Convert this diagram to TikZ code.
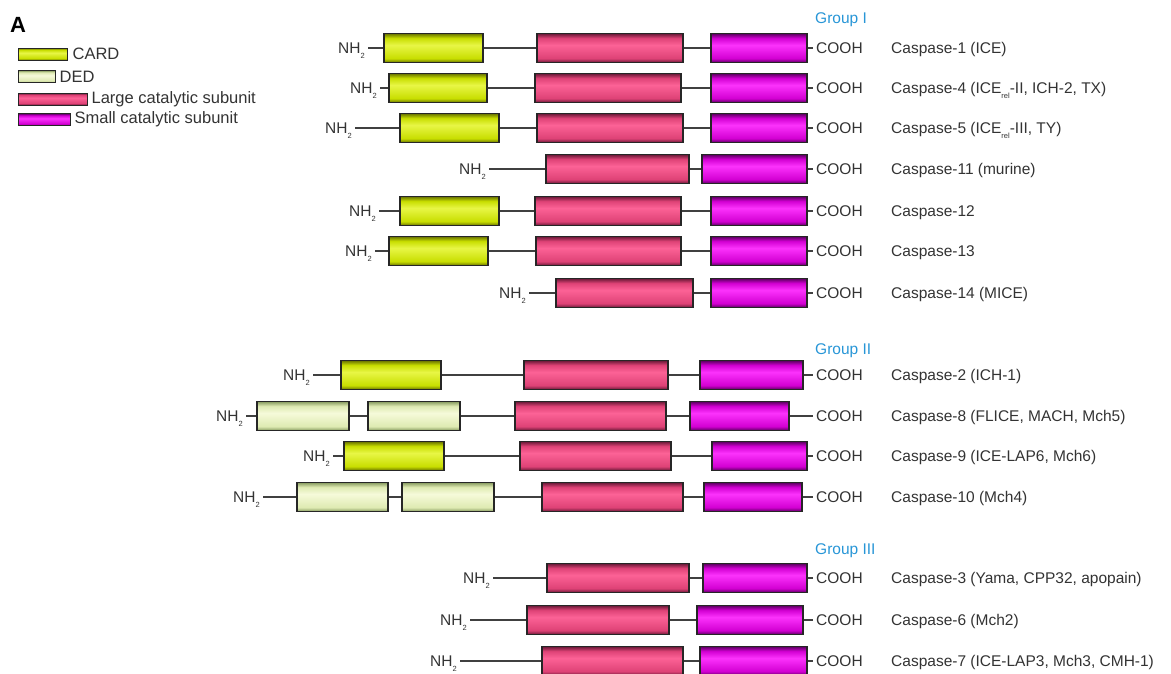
\documentclass[tikz,border=0pt]{standalone}
\usepackage{fontspec}
\setmainfont{Liberation Sans}
\usepackage{tikz}
\usetikzlibrary{positioning}

\definecolor{groupblue}{RGB}{40,150,215}
\definecolor{cardD}{RGB}{105,115,0}
\definecolor{cardM}{RGB}{200,222,0}
\definecolor{cardL}{RGB}{232,246,70}
\definecolor{dedD}{RGB}{135,155,95}
\definecolor{dedM}{RGB}{222,234,178}
\definecolor{dedL}{RGB}{246,250,218}
\definecolor{largeD}{RGB}{105,25,55}
\definecolor{largeM}{RGB}{222,66,118}
\definecolor{largeL}{RGB}{252,98,150}
\definecolor{smallD}{RGB}{90,0,95}
\definecolor{smallM}{RGB}{210,0,210}
\definecolor{smallL}{RGB}{252,50,252}

\pgfdeclareverticalshading{cardshade}{100bp}{color(0bp)=(cardD); color(25bp)=(cardD); color(32bp)=(cardM); color(55bp)=(cardL); color(67bp)=(cardM); color(75bp)=(cardD); color(100bp)=(cardD)}
\pgfdeclareverticalshading{dedshade}{100bp}{color(0bp)=(dedD); color(25bp)=(dedD); color(32bp)=(dedM); color(55bp)=(dedL); color(67bp)=(dedM); color(75bp)=(dedD); color(100bp)=(dedD)}
\pgfdeclareverticalshading{largeshade}{100bp}{color(0bp)=(largeD); color(25bp)=(largeD); color(32bp)=(largeM); color(55bp)=(largeL); color(67bp)=(largeM); color(75bp)=(largeD); color(100bp)=(largeD)}
\pgfdeclareverticalshading{smallshade}{100bp}{color(0bp)=(smallD); color(25bp)=(smallD); color(32bp)=(smallM); color(55bp)=(smallL); color(67bp)=(smallM); color(75bp)=(smallD); color(100bp)=(smallD)}

\newcommand{\lowsub}[1]{\raisebox{-0.6ex}{\fontsize{7.5}{7.5}\selectfont #1}}

\begin{document}
\begin{tikzpicture}[
  x=1pt, y=-1pt,
  font=\fontsize{15.5}{18}\selectfont, text=black!80,
  dom/.style={rectangle, draw=black!85, line width=1.1pt, minimum height=29pt, inner sep=0pt, shade},
  card/.style={dom, shading=cardshade},
  ded/.style={dom, shading=dedshade},
  large/.style={dom, shading=largeshade},
  small/.style={dom, shading=smallshade},
  leg/.style={minimum height=12pt, line width=0.9pt},
  leglabel/.style={font=\fontsize{16.5}{19}\selectfont, inner sep=1pt},
  nterm/.style={anchor=east, inner xsep=3pt, inner ysep=0pt, text depth=0pt},
  cterm/.style={anchor=west, inner xsep=3pt, inner ysep=0pt, text depth=0pt},
  caslabel/.style={anchor=west, inner sep=0pt, text height=11pt, text depth=0pt},
  grp/.style={anchor=west, inner sep=0pt, text=groupblue},
  backbone/.style={draw=black!75, line width=1.4pt}
]
\fill[white] (0,0) rectangle (1171,673);
\useasboundingbox (0,0) rectangle (1171,673);

% Legend
\node[font=\fontsize{22}{24}\selectfont\bfseries, text=black] (panel) at (18,25) {A};
\node[card, leg, minimum width=49pt]  (legcard)  at (42.5,54) {};
\node[ded, leg, minimum width=37pt]   (legded)   at (36.5,76.5) {};
\node[large, leg, minimum width=69pt] (leglarge) at (52.5,99) {};
\node[small, leg, minimum width=52pt] (legsmall) at (44,119.5) {};
\node[leglabel, right=4pt of legcard]  (legcard_label)  {CARD};
\node[leglabel, right=3pt of legded]   (legded_label)   {DED};
\node[leglabel, right=3pt of leglarge] (leglarge_label) {Large catalytic subunit};
\node[leglabel, right=3pt of legsmall] (legsmall_label) {Small catalytic subunit};

%----- Group I -----------------------------------------------------------------
\node[grp] (g1) at (815,20) {Group I};

% Caspase-1
\node[nterm] (c1n) at (368,48) {NH\lowsub{2}};
\node[card, minimum width=99pt]   (c1a) at (433.5,48) {};
\node[large, minimum width=146pt] (c1b) at (610,48) {};
\node[small, minimum width=96pt]  (c1c) at (759,48) {};
\node[cterm] (c1o) at (813,48) {COOH};
\node[caslabel] (c1l) at (891,48) {Caspase-1 (ICE)};
\draw[backbone] (c1n) -- (c1a) -- (c1b) -- (c1c) -- (c1o);

% Caspase-4
\node[nterm] (c4n) at (380,88) {NH\lowsub{2}};
\node[card, minimum width=98pt]   (c4a) at (438,88) {};
\node[large, minimum width=146pt] (c4b) at (608,88) {};
\node[small, minimum width=96pt]  (c4c) at (759,88) {};
\node[cterm] (c4o) at (813,88) {COOH};
\node[caslabel] (c4l) at (891,88) {Caspase-4 (ICE\lowsub{rel}-II, ICH-2, TX)};
\draw[backbone] (c4n) -- (c4a) -- (c4b) -- (c4c) -- (c4o);

% Caspase-5
\node[nterm] (c5n) at (355,128) {NH\lowsub{2}};
\node[card, minimum width=99pt]   (c5a) at (449.5,128) {};
\node[large, minimum width=146pt] (c5b) at (610,128) {};
\node[small, minimum width=96pt]  (c5c) at (759,128) {};
\node[cterm] (c5o) at (813,128) {COOH};
\node[caslabel] (c5l) at (891,128) {Caspase-5 (ICE\lowsub{rel}-III, TY)};
\draw[backbone] (c5n) -- (c5a) -- (c5b) -- (c5c) -- (c5o);

% Caspase-11
\node[nterm] (c11n) at (489,169) {NH\lowsub{2}};
\node[large, minimum width=143pt] (c11b) at (617.5,169) {};
\node[small, minimum width=105pt] (c11c) at (754.5,169) {};
\node[cterm] (c11o) at (813,169) {COOH};
\node[caslabel] (c11l) at (891,169) {Caspase-11 (murine)};
\draw[backbone] (c11n) -- (c11b) -- (c11c) -- (c11o);

% Caspase-12
\node[nterm] (c12n) at (379,211) {NH\lowsub{2}};
\node[card, minimum width=99pt]   (c12a) at (449.5,211) {};
\node[large, minimum width=146pt] (c12b) at (608,211) {};
\node[small, minimum width=96pt]  (c12c) at (759,211) {};
\node[cterm] (c12o) at (813,211) {COOH};
\node[caslabel] (c12l) at (891,211) {Caspase-12};
\draw[backbone] (c12n) -- (c12a) -- (c12b) -- (c12c) -- (c12o);

% Caspase-13
\node[nterm] (c13n) at (375,251) {NH\lowsub{2}};
\node[card, minimum width=99pt]   (c13a) at (438.5,251) {};
\node[large, minimum width=145pt] (c13b) at (608.5,251) {};
\node[small, minimum width=96pt]  (c13c) at (759,251) {};
\node[cterm] (c13o) at (813,251) {COOH};
\node[caslabel] (c13l) at (891,251) {Caspase-13};
\draw[backbone] (c13n) -- (c13a) -- (c13b) -- (c13c) -- (c13o);

% Caspase-14
\node[nterm] (c14n) at (529,293) {NH\lowsub{2}};
\node[large, minimum width=137pt] (c14b) at (624.5,293) {};
\node[small, minimum width=96pt]  (c14c) at (759,293) {};
\node[cterm] (c14o) at (813,293) {COOH};
\node[caslabel] (c14l) at (891,293) {Caspase-14 (MICE)};
\draw[backbone] (c14n) -- (c14b) -- (c14c) -- (c14o);

%----- Group II ----------------------------------------------------------------
\node[grp] (g2) at (815,351) {Group II};

% Caspase-2
\node[nterm] (c2n) at (313,375) {NH\lowsub{2}};
\node[card, minimum width=100pt]  (c2a) at (391,375) {};
\node[large, minimum width=144pt] (c2b) at (596,375) {};
\node[small, minimum width=103pt] (c2c) at (751.5,375) {};
\node[cterm] (c2o) at (813,375) {COOH};
\node[caslabel] (c2l) at (891,375) {Caspase-2 (ICH-1)};
\draw[backbone] (c2n) -- (c2a) -- (c2b) -- (c2c) -- (c2o);

% Caspase-8
\node[nterm] (c8n) at (246,416) {NH\lowsub{2}};
\node[ded, minimum width=92pt]    (c8a) at (303,416) {};
\node[ded, minimum width=92pt]    (c8d) at (414,416) {};
\node[large, minimum width=151pt] (c8b) at (590.5,416) {};
\node[small, minimum width=99pt]  (c8c) at (739.5,416) {};
\node[cterm] (c8o) at (813,416) {COOH};
\node[caslabel] (c8l) at (891,416) {Caspase-8 (FLICE, MACH, Mch5)};
\draw[backbone] (c8n) -- (c8a) -- (c8d) -- (c8b) -- (c8c) -- (c8o);

% Caspase-9
\node[nterm] (c9n) at (333,456) {NH\lowsub{2}};
\node[card, minimum width=100pt]  (c9a) at (394,456) {};
\node[large, minimum width=151pt] (c9b) at (595.5,456) {};
\node[small, minimum width=95pt]  (c9c) at (759.5,456) {};
\node[cterm] (c9o) at (813,456) {COOH};
\node[caslabel] (c9l) at (891,456) {Caspase-9 (ICE-LAP6, Mch6)};
\draw[backbone] (c9n) -- (c9a) -- (c9b) -- (c9c) -- (c9o);

% Caspase-10
\node[nterm] (c10n) at (263,497) {NH\lowsub{2}};
\node[ded, minimum width=91pt]    (c10a) at (342.5,497) {};
\node[ded, minimum width=92pt]    (c10d) at (448,497) {};
\node[large, minimum width=141pt] (c10b) at (612.5,497) {};
\node[small, minimum width=98pt]  (c10c) at (753,497) {};
\node[cterm] (c10o) at (813,497) {COOH};
\node[caslabel] (c10l) at (891,497) {Caspase-10 (Mch4)};
\draw[backbone] (c10n) -- (c10a) -- (c10d) -- (c10b) -- (c10c) -- (c10o);

%----- Group III ---------------------------------------------------------------
\node[grp] (g3) at (815,551) {Group III};

% Caspase-3
\node[nterm] (c3n) at (493,578) {NH\lowsub{2}};
\node[large, minimum width=142pt] (c3b) at (618,578) {};
\node[small, minimum width=104pt] (c3c) at (755,578) {};
\node[cterm] (c3o) at (813,578) {COOH};
\node[caslabel] (c3l) at (891,578) {Caspase-3 (Yama, CPP32, apopain)};
\draw[backbone] (c3n) -- (c3b) -- (c3c) -- (c3o);

% Caspase-6
\node[nterm] (c6n) at (470,620) {NH\lowsub{2}};
\node[large, minimum width=142pt] (c6b) at (598,620) {};
\node[small, minimum width=106pt] (c6c) at (750,620) {};
\node[cterm] (c6o) at (813,620) {COOH};
\node[caslabel] (c6l) at (891,620) {Caspase-6 (Mch2)};
\draw[backbone] (c6n) -- (c6b) -- (c6c) -- (c6o);

% Caspase-7
\node[nterm] (c7n) at (460,661) {NH\lowsub{2}};
\node[large, minimum width=141pt] (c7b) at (612.5,661) {};
\node[small, minimum width=107pt] (c7c) at (753.5,661) {};
\node[cterm] (c7o) at (813,661) {COOH};
\node[caslabel] (c7l) at (891,661) {Caspase-7 (ICE-LAP3, Mch3, CMH-1)};
\draw[backbone] (c7n) -- (c7b) -- (c7c) -- (c7o);

\end{tikzpicture}
\end{document}
